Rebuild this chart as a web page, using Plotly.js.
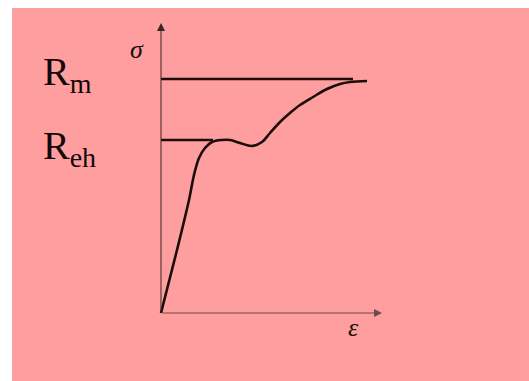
<!DOCTYPE html>
<html>
<head>
<meta charset="utf-8">
<script src="https://cdn.plot.ly/plotly-3.0.1.min.js"></script>
<style>html,body{margin:0;padding:0;background:#fff;}#chart{width:529px;height:381px;}</style>
</head>
<body>
<div id="chart"></div>
<script>
// Stress-strain curve (arbitrary units)
const strain = [0, 1.6, 2.8, 3.3, 3.8, 4.4, 5.1, 6.1, 6.9, 7.9, 9.1, 10.1, 10.9, 11.9, 12.9, 13.9, 15.2, 16.6, 17.9, 18.9, 20.6];
const stress = [0, 6.3, 11.3, 13.8, 15.5, 16.5, 17.1, 17.3, 17.3, 17.0, 16.7, 17.1, 18.0, 19.1, 20.0, 20.8, 21.6, 22.4, 22.9, 23.1, 23.2];
// Reference levels
const levelNames = ["R<sub>m</sub>", "R<sub>eh</sub>"];
const levelValues = [23.4, 17.3];
const levelEnds = [19.2, 5.2];
// Axis labels and extents
const axisLabels = ["σ", "ε"];
const axisMax = {strain: 22.1, stress: 29.0};

const ink = "#1c0d0d";
const traces = [{
  x: strain, y: stress, type: "scatter", mode: "lines",
  line: {color: ink, width: 2.6, shape: "spline", smoothing: 1},
  hoverinfo: "skip", showlegend: false
}];
levelValues.forEach((v, i) => {
  traces.push({
    x: [0, levelEnds[i]], y: [v, v], type: "scatter", mode: "lines",
    line: {color: ink, width: 2.4}, hoverinfo: "skip", showlegend: false
  });
});

const annotations = [
  // y axis arrow
  {x: 0, y: axisMax.stress, ax: 0, ay: 0, xref: "x", yref: "y", axref: "x", ayref: "y",
   text: "", showarrow: true, arrowhead: 2, arrowsize: 1.6, arrowwidth: 1, arrowcolor: "#3a2525"},
  // x axis arrow
  {x: axisMax.strain, y: 0, ax: 0, ay: 0, xref: "x", yref: "y", axref: "x", ayref: "y",
   text: "", showarrow: true, arrowhead: 2, arrowsize: 1.6, arrowwidth: 1, arrowcolor: "#6a4a4a"},
  {x: -2.4, y: 26.4, xref: "x", yref: "y", text: axisLabels[0], showarrow: false,
   font: {family: "Liberation Serif", size: 26, color: ink, style: "italic"}},
  {x: 19.2, y: -1.4, xref: "x", yref: "y", text: axisLabels[1], showarrow: false,
   font: {family: "Liberation Serif", size: 26, color: ink, style: "italic"}}
];
levelNames.forEach((n, i) => {
  annotations.push({
    x: -12.0, y: levelValues[i] + (i === 0 ? 0.5 : -0.8), xref: "x", yref: "y", xanchor: "left", yanchor: "middle",
    text: n, showarrow: false,
    font: {family: "Liberation Serif", size: 40, color: "#140808"}
  });
});

const layout = {
  width: 529, height: 381,
  margin: {l: 12, r: 0, t: 8, b: 0, pad: 0},
  paper_bgcolor: "#ffffff",
  plot_bgcolor: "#ff9e9e",
  xaxis: {range: [-14.9, 36.8], visible: false, fixedrange: true},
  yaxis: {range: [-6.8, 30.5], visible: false, fixedrange: true},
  annotations: annotations,
  showlegend: false
};

Plotly.newPlot("chart", traces, layout, {displayModeBar: false, staticPlot: true});
</script>
</body>
</html>
